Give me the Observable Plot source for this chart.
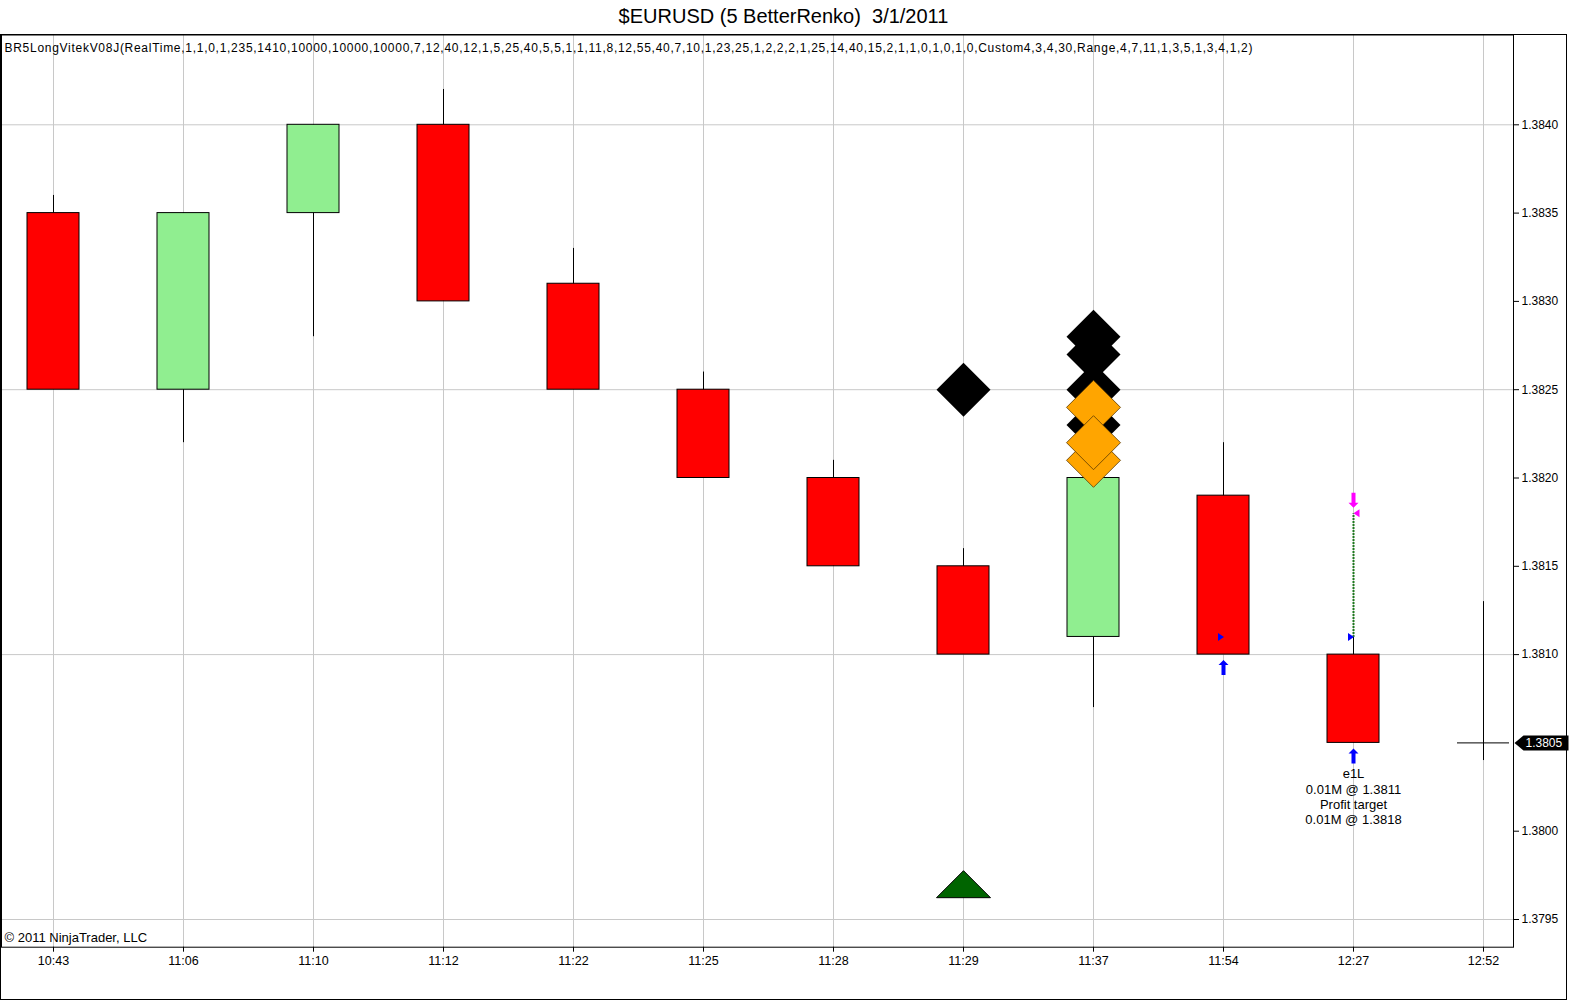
<!DOCTYPE html>
<meta charset="utf-8">
<div id="title">$EURUSD (5 BetterRenko)  3/1/2011</div>
<div id="plot"></div>
<div id="box"></div>
<script src="https://cdn.jsdelivr.net/npm/d3@7"></script>
<script src="https://cdn.jsdelivr.net/npm/@observablehq/plot@0.6"></script>
<script>

// renko bars
const times  = ['10:43', '11:06', '11:10', '11:12', '11:22', '11:25', '11:28', '11:29', '11:37', '11:54', '12:27', '12:52'];
const opens  = [1.3835, 1.3825, 1.3835, 1.3840, 1.3831, 1.3825, 1.3820, 1.3815, 1.3811, 1.3819, 1.3810];
const closes = [1.3825, 1.3835, 1.3840, 1.3830, 1.3825, 1.3820, 1.3815, 1.3810, 1.3820, 1.3810, 1.3805];
const highs  = [1.3836, 1.3835, 1.3840, 1.3842, 1.3833, 1.3826, 1.3821, 1.3816, 1.3820, 1.3822, 1.3811];
const lows   = [1.3825, 1.3822, 1.3828, 1.3830, 1.3825, 1.3820, 1.3815, 1.3810, 1.3807, 1.3810, 1.3805];

// bar still forming at 12:52
const lastTime = '12:52';
const lastHigh = 1.3813;
const lastLow = 1.3804;
const lastPrice = 1.3805;

// indicator signals
const blackDiamonds = [['11:29', 1.3825], ['11:37', 1.3828], ['11:37', 1.3827], ['11:37', 1.3825], ['11:37', 1.3823]];
const orangeDiamonds = [['11:37', 1.3824], ['11:37', 1.3821], ['11:37', 1.3822]];
const greenTriangles = [['11:29', 1.3797]];

// trades
const entryTimes = ['11:54', '12:27'];
const entryPrice = 1.3811;
const exitTime = '12:27';
const exitPrice = 1.3818;
const tradeText = ['e1L', '0.01M @ 1.3811', 'Profit target', '0.01M @ 1.3818'];

const yTicks = [1.3795, 1.3800, 1.3810, 1.3815, 1.3820, 1.3825, 1.3830, 1.3835, 1.3840];
const yGrid = [1.3795, 1.3810, 1.3825, 1.3840];

const indicatorLabel = 'BR5LongVitekV08J(RealTime,1,1,0,1,235,1410,10000,10000,10000,7,12,40,12,1,5,25,40,5,5,1,1,11,8,12,55,40,7,10,1,23,25,1,2,2,2,1,25,14,40,15,2,1,1,0,1,0,1,0,Custom4,3,4,30,Range,4,7,11,1,3,5,1,3,4,1,2)';
const copyright = '© 2011 NinjaTrader, LLC';

let bars = [];
for (let i = 0; i < opens.length; i++) {
	bars.push({time: times[i], open: opens[i], close: closes[i], high: highs[i], low: lows[i]});
}
const entryBars = bars.filter(d => entryTimes.includes(d.time));
const exitBar = bars.find(d => d.time == exitTime);

// pixel shapes for the markers
function poly(points) {
	return {draw(ctx) {
		ctx.moveTo(...points[0]);
		for (let p of points.slice(1)) ctx.lineTo(...p);
		ctx.closePath();
	}};
}
const diamond = poly([[0, -27], [27, 0], [0, 27], [-27, 0]]);
const flatTriangle = poly([[0, -13.5], [27, 13.5], [-27, 13.5]]);
const arrowUp = poly([[0, -7.5], [5, -2.5], [2, -2.5], [2, 7.5], [-2, 7.5], [-2, -2.5], [-5, -2.5]]);
const arrowDown = poly([[0, 7.5], [5, 2.5], [2, 2.5], [2, -7.5], [-2, -7.5], [-2, 2.5], [-5, 2.5]]);
const triRight = poly([[-3, -4], [3, 0], [-3, 4]]);
const triLeft = poly([[3, -4], [-3, 0], [3, 4]]);
const priceTag = poly([[1, 0], [10, -7.5], [55, -7.5], [55, 7.5], [10, 7.5]]);

const fmt = d3.format('.4f');

const plot = Plot.plot({
	width: 1577,
	height: 968,
	marginLeft: 1,
	marginRight: 64,
	marginTop: 0.5,
	marginBottom: 55.3,
	style: {fontFamily: '"Liberation Sans", Arial, sans-serif', fontSize: '12px', color: 'black', background: 'white'},
	x: {type: 'band', domain: times, range: [-11.7, 1548.3], paddingInner: 0.6, paddingOuter: 0.3, label: null},
	y: {domain: [1.3795, 1.3840], range: [885, 90.3], label: null},
	marks: [
		Plot.gridX({stroke: '#c8c8c8', strokeOpacity: 1}),
		Plot.gridY(yGrid, {stroke: '#c8c8c8', strokeOpacity: 1}),
		Plot.axisX({anchor: 'bottom', tickSize: 5, tickPadding: 4, fontSize: 12.5, label: null}),
		Plot.axisY(yTicks, {anchor: 'right', tickSize: 5, tickPadding: 3, tickFormat: fmt, label: null}),
		Plot.text([indicatorLabel], {frameAnchor: 'top-left', dx: 3, dy: 8, lineAnchor: 'top', textAnchor: 'start', fill: 'black'}),
		Plot.text([copyright], {frameAnchor: 'bottom-left', dx: 3, dy: -5, lineAnchor: 'bottom', textAnchor: 'start', fontSize: 13, fill: 'black'}),
		Plot.ruleX(bars, {x: 'time', y1: 'low', y2: 'high', stroke: 'black'}),
		Plot.barY(bars, {x: 'time', y1: 'open', y2: 'close', fill: d => d.close > d.open ? '#90ee90' : '#ff0000', stroke: 'black', strokeWidth: 1}),
		Plot.ruleX([lastTime], {x: d => d, y1: lastLow, y2: lastHigh, stroke: 'black'}),
		Plot.tickY([lastPrice], {x: () => lastTime, y: d => d, stroke: 'black'}),
		Plot.dot(blackDiamonds, {x: d => d[0], y: d => d[1], symbol: diamond, r: 1, fill: 'black', stroke: 'none'}),
		Plot.dot(orangeDiamonds, {x: d => d[0], y: d => d[1], symbol: diamond, r: 1, fill: '#ffa500', stroke: '#5c3a00', strokeWidth: 0.8}),
		Plot.dot(greenTriangles, {x: d => d[0], y: d => d[1], symbol: flatTriangle, r: 1, fill: '#006400', stroke: 'black', strokeWidth: 1}),
		Plot.link([exitBar], {x1: 'time', x2: 'time', y1: () => entryPrice, y2: () => exitPrice, stroke: '#1f7a1f', strokeWidth: 2, strokeDasharray: '2 1'}),
		Plot.dot(entryBars, {x: 'time', y: () => entryPrice, dx: -2.5, symbol: triRight, r: 1, fill: 'blue', stroke: 'none'}),
		Plot.dot(entryBars, {x: 'time', y: 'low', dy: 13, symbol: arrowUp, r: 1, fill: 'blue', stroke: 'none'}),
		Plot.dot([exitBar], {x: 'time', y: () => exitPrice, dx: 3, symbol: triLeft, r: 1, fill: '#ff00ff', stroke: 'none'}),
		Plot.dot([exitBar], {x: 'time', y: () => exitPrice, dy: -13, symbol: arrowDown, r: 1, fill: '#ff00ff', stroke: 'none'}),
		Plot.text([exitBar], {x: 'time', y: 'low', text: () => tradeText.join('\n'), lineAnchor: 'top', lineHeight: 1.18, dy: 24.5, fontSize: 13, fill: 'black'}),
		Plot.frame({stroke: 'black'}),
		Plot.dot([lastPrice], {y: d => d, frameAnchor: 'right', symbol: priceTag, r: 1, fill: 'black', stroke: 'none'}),
		Plot.text([lastPrice], {y: d => d, frameAnchor: 'right', text: fmt, dx: 12, textAnchor: 'start', fill: 'white'}),
	],
});

document.querySelector('#plot').append(plot);

// the indicator line is drawn with wider comma spacing in the original
for (let node of plot.querySelectorAll('text')) {
	if (node.textContent == indicatorLabel) {
		node.setAttribute('textLength', 1248);
		node.setAttribute('lengthAdjust', 'spacing');
	}
}

</script>
<style>

html, body {
	margin: 0;
	background: white;
}

#title {
	position: relative;
	top: 5px;
	width: 1567px;
	height: 34px;
	line-height: 34px;
	text-align: center;
	font: 20px "Liberation Sans", Arial, sans-serif;
	white-space: pre;
}

#plot {
	position: absolute;
	left: 0;
	top: 34px;
}

#box {
	position: absolute;
	left: 0;
	top: 34px;
	width: 1567px;
	height: 966px;
	border: 1px solid black;
	box-sizing: border-box;
	pointer-events: none;
}

</style>
